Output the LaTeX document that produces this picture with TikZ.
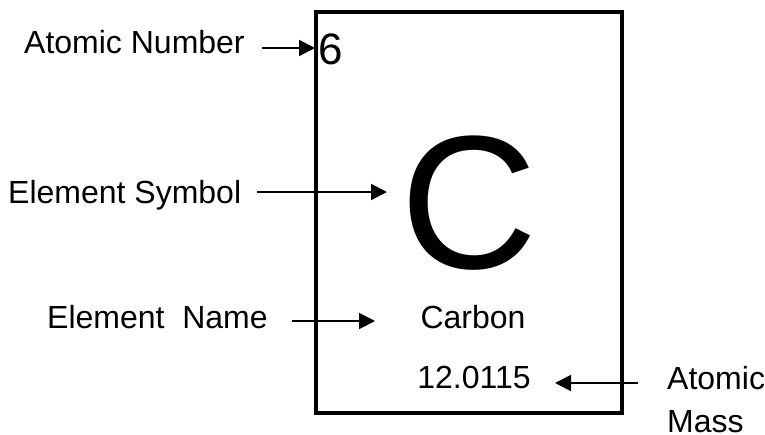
\documentclass[tikz,border=0pt]{standalone}
\usepackage{fontspec}
\setmainfont{Liberation Sans}
\usetikzlibrary{arrows.meta,positioning}
\tikzset{
  cell/.style={
    draw,
    line width=4pt,
    inner sep=0pt,
    minimum width=306pt,
    minimum height=401pt
  },
  lbl/.style={
    font=\fontsize{32}{43}\selectfont,
    inner sep=0pt
  },
  pointer/.style={
    line width=2pt,
    -{Triangle[length=16pt,width=16pt]}
  },
}
\begin{document}
\begin{tikzpicture}[x=1pt,y=-1pt]
        \useasboundingbox (0,0) rectangle (765,434);

        \node[cell] (cell) at (469,212.5) {};

        % what stands in the cell
        \node[lbl, anchor=base west, font=\fontsize{44}{50}\selectfont] (num) at (318,64) {6};
        \node[lbl, anchor=base, font=\fontsize{190}{200}\selectfont] (sym) at (469,268) {C};
        \node[lbl, anchor=base] (name) at (473,328) {Carbon};
        \node[lbl, anchor=base] (mass) at (474,388) {12.0115};

        % labels
        \node[lbl, anchor=base west] (numlbl) at (24,53) {Atomic Number};
        \node[lbl, anchor=base west] (symlbl) at (8,203) {Element Symbol};
        \node[lbl, anchor=base west] (namelbl) at (47,328) {Element\ \ Name};
        \node[lbl, anchor=north west, align=left] (masslbl) at (667,366.5) {Atomic\\Mass};

        \coordinate (numtail) at (262,48);
        \coordinate (numtip) at (315,48);
        \coordinate (symtail) at (257,192);
        \coordinate (symtip) at (387,192);
        \coordinate (nametail) at (292,321);
        \coordinate (nametip) at (375,321);
        \coordinate (masstail) at (638,383);
        \coordinate (masstip) at (555,383);

        \draw[pointer] (numtail) -- (numtip);
        \draw[pointer] (symtail) -- (symtip);
        \draw[pointer] (nametail) -- (nametip);
        \draw[pointer] (masstail) -- (masstip);
    \end{tikzpicture}
\end{document}
